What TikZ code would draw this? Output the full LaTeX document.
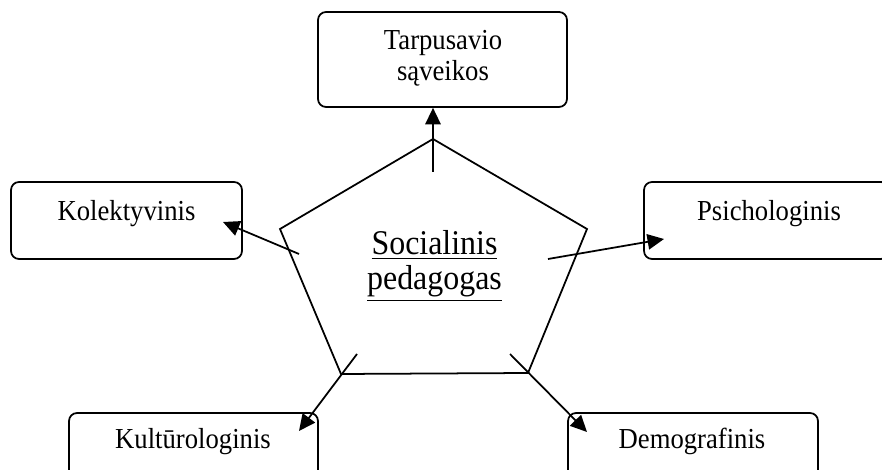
\documentclass[tikz,border=0pt]{standalone}
\usepackage{fontspec}
\setmainfont{Liberation Serif}[FakeStretch=0.92]
\usetikzlibrary{
  arrows.meta,
  calc,
  positioning
}

\begin{document}
\begin{tikzpicture}[x=0.016cm, y=-0.016cm,
  box/.style={draw, rounded corners=3.6pt, line width=0.8pt, minimum height=1.232cm},
  lbl/.style={font=\fontsize{13.2pt}{15pt}\selectfont, anchor=base, inner sep=0pt},
  mid/.style={font=\fontsize{15.8pt}{18pt}\selectfont, anchor=base, inner sep=0pt},
  arr/.style={-{Triangle[length=7.5pt,width=7pt]}, line width=0.8pt}]
  \useasboundingbox (0,0) rectangle (882,470);

  % Boxes
  \node[box, minimum width=3.984cm, minimum height=1.52cm] (tsav) at (442.5, 59.5) {};
  \node[box, minimum width=3.696cm] (kol) at (126.5, 220.5) {};
  \node[box, minimum width=3.92cm] (psi) at (766.5, 220.5) {};
  \node[box, minimum width=3.984cm] (kul) at (193.5, 451.5) {};
  \node[box, minimum width=4cm] (dem) at (693, 451.5) {};

  % Box texts
  \node[lbl] (tsavA) at (443, 50) {Tarpusavio};
  \node[lbl] (tsavB) at (443, 81) {sąveikos};
  \node[lbl] (kolT) at (126.5, 221) {Kolektyvinis};
  \node[lbl] (psiT) at (769, 221) {Psichologinis};
  \node[lbl] (kulT) at (193, 449) {Kultūrologinis};
  \node[lbl] (demT) at (692, 449) {Demografinis};

  % Pentagon
  \draw[line width=0.8pt] (433, 139) -- (587, 229) -- (528, 373) -- (341, 374)
    -- (280, 229) -- cycle;
  \node[mid] (socA) at (434.5, 255) {\underline{Socialinis}};
  \node[mid] (socB) at (434.5, 290) {\underline{pedagogas}};

  % Arrow ends
  \coordinate (sTop) at (433, 172);
  \coordinate (sKol) at (299, 254);
  \coordinate (tKol) at (223, 222);
  \coordinate (sPsi) at (548, 259);
  \coordinate (tPsi) at (664, 239);
  \coordinate (sKul) at (357, 354);
  \coordinate (tKul) at (299, 431);
  \coordinate (sDem) at (510, 354);
  \coordinate (tDem) at (587, 432);

  % Arrows
  \draw[arr] (sTop) -- (sTop |- tsav.south);
  \draw[arr] (sKol) -- (tKol);
  \draw[arr] (sPsi) -- (tPsi);
  \draw[arr] (sKul) -- (tKul);
  \draw[arr] (sDem) -- (tDem);
\end{tikzpicture}
\end{document}
